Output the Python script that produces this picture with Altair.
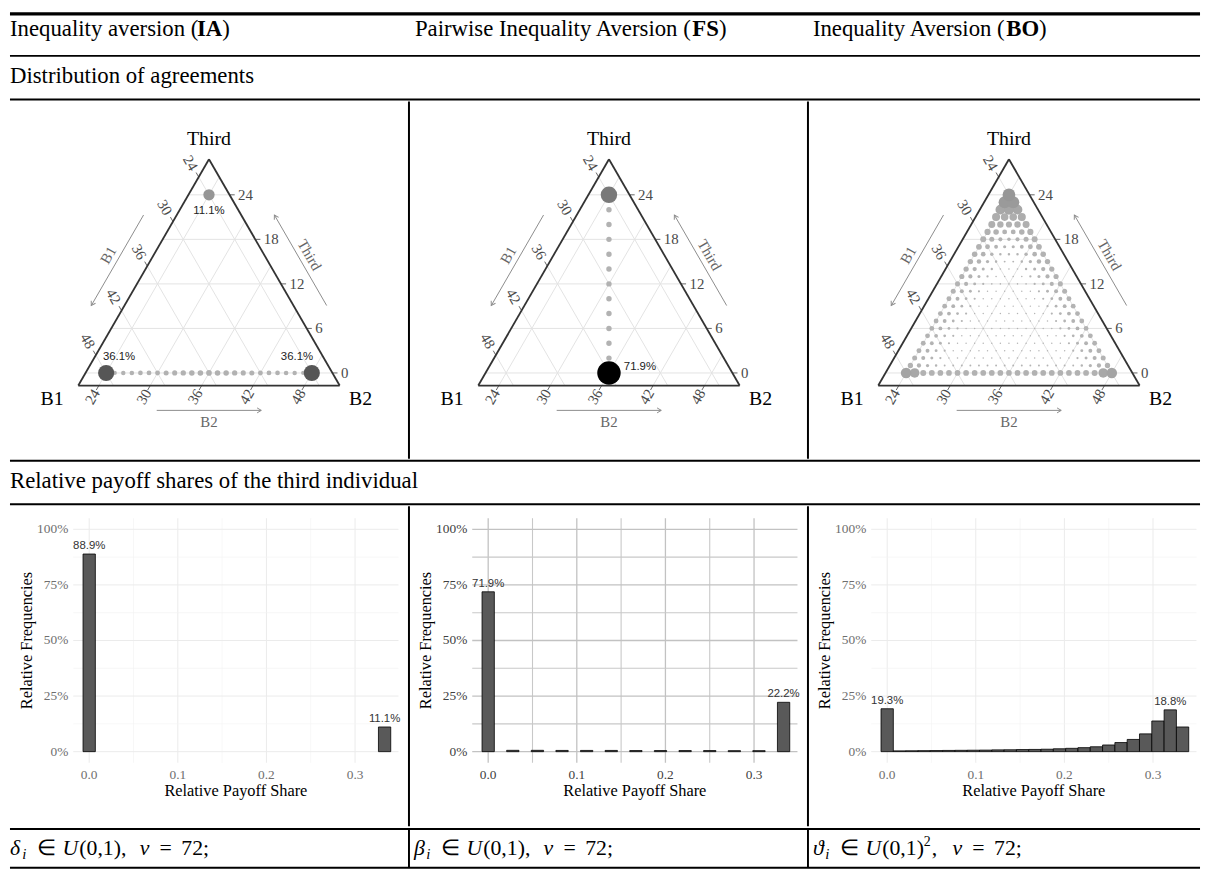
import math
import altair as alt
import pandas as pd

SERIF = "Liberation Serif"
SANS = "Liberation Sans"

# ============================ DATA ============================
header_plain = ["Inequality aversion (", "Pairwise Inequality Aversion (", "Inequality Aversion ("]
header_bold = ["IA", "FS", "BO"]
section_1 = "Distribution of agreements"
section_2 = "Relative payoff shares of the third individual"
formula_symbols = ["δ", "β", "ϑ"]
formula_squared = [False, False, True]

payoff_total = 72
b_tick_values = [24, 30, 36, 42, 48]
third_tick_values = [0, 6, 12, 18, 24]

# --- IA ternary: agreements (B2, Third), relative frequency in %
ia_b2 = [24, 25, 26, 27, 28, 29, 30, 31, 32, 33, 34, 35, 36, 37, 38, 39, 40, 41, 42, 43, 44, 45, 46, 47, 48, 24]
ia_third = [0, 0, 0, 0, 0, 0, 0, 0, 0, 0, 0, 0, 0, 0, 0, 0, 0, 0, 0, 0, 0, 0, 0, 0, 0, 24]
ia_pct = [36.1, 0.45, 0.5, 0.55, 0.6, 0.65, 0.7, 0.75, 0.8, 0.9, 1.0, 1.05, 1.1, 1.05, 1.0, 0.9, 0.8, 0.75,
          0.7, 0.65, 0.6, 0.55, 0.5, 0.45, 36.1, 11.1]

# --- FS ternary
fs_b2 = [36, 35, 34, 33, 32, 31, 30, 29, 28, 27, 26, 25, 24]
fs_third = [0, 2, 4, 6, 8, 10, 12, 14, 16, 18, 20, 22, 24]
fs_pct = [71.9, 0.55, 0.55, 0.55, 0.55, 0.55, 0.55, 0.55, 0.55, 0.55, 0.55, 0.55, 22.2]

# --- BO ternary: one entry per row of the lattice (Third value),
#     edge profile (from the outer dots inwards) and the value of the inner dots
bo_row_third = [24, 23, 22, 21, 20, 19, 18, 17, 16, 15, 14, 13, 12, 11, 10, 9, 8, 7, 6, 5, 4, 3, 2, 1, 0]
bo_row_edge = [
    [11.1], [9.4], [4.6], [2.4], [1.5, 1.1], [1.0, 0.7], [0.9, 0.5, 0.25], [0.8, 0.45, 0.2],
    [0.7, 0.4, 0.15], [0.65, 0.35, 0.12, 0.05], [0.6, 0.3, 0.1, 0.04], [0.55, 0.28, 0.09, 0.035],
    [0.5, 0.25, 0.08, 0.03], [0.5, 0.24, 0.08, 0.03], [0.48, 0.22, 0.07, 0.03], [0.46, 0.21, 0.07, 0.03],
    [0.45, 0.2, 0.07, 0.03], [0.45, 0.2, 0.07, 0.03], [0.45, 0.2, 0.07, 0.03], [0.45, 0.2, 0.07, 0.03],
    [0.46, 0.21, 0.08, 0.03], [0.48, 0.22, 0.08, 0.03], [0.5, 0.24, 0.09, 0.035], [0.6, 0.3, 0.12, 0.05],
    [6.0, 4.2, 0.9, 0.8],
]
bo_row_inner = [11.1, 9.4, 5.2, 2.0, 1.0, 0.45, 0.15, 0.1, 0.05, 0.02, 0.012, 0.01, 0.01, 0.008, 0.008,
                0.008, 0.008, 0.008, 0.008, 0.008, 0.008, 0.008, 0.01, 0.02, 0.75]

# --- histograms of the relative payoff share (Third / 72), relative frequency in %
ia_share_k = [0, 24]
ia_share_pct = [88.9, 11.1]
fs_share_k = [0, 2, 4, 6, 8, 10, 12, 14, 16, 18, 20, 22, 24]
fs_share_pct = [71.9, 0.6, 0.6, 0.55, 0.55, 0.55, 0.5, 0.5, 0.5, 0.5, 0.45, 0.45, 22.2]
bo_share_k = [0, 1, 2, 3, 4, 5, 6, 7, 8, 9, 10, 11, 12, 13, 14, 15, 16, 17, 18, 19, 20, 21, 22, 23, 24]
bo_share_pct = [19.3, 0.35, 0.4, 0.45, 0.5, 0.55, 0.6, 0.65, 0.7, 0.8, 0.85, 0.95, 1.0, 1.1, 1.3, 1.5, 1.8,
                2.2, 3.0, 4.1, 5.5, 8.0, 13.8, 18.8, 11.1]
ia_share_label_k = [0, 24]
fs_share_label_k = [0, 24]
bo_share_label_k = [0, 23]

x_major = [0.0, 0.1, 0.2, 0.3]
x_minor = [0.05, 0.15, 0.25]
y_major = [0.0, 0.25, 0.5, 0.75, 1.0]
y_minor = [0.125, 0.375, 0.625, 0.875]
x_axis_title = "Relative Payoff Share"
y_axis_title = "Relative Frequencies"

# ============================ LAYOUT ============================
FULL_W = 1202
COL_X = [0, 403, 806]
COL_W = [403, 403, 396]
ROW_A_H, ROW_B_H, ROW_C_H, ROW_D_H, ROW_E_H = 89, 361, 46, 323, 42
TABLE_FS = 23

TIMES_R = {' ': 250, '(': 333, ')': 333, 'A': 722, 'I': 333, 'P': 556, 'a': 444, 'e': 444, 'i': 278,
           'l': 278, 'n': 500, 'o': 500, 'q': 500, 'r': 333, 's': 389, 't': 278, 'u': 500, 'v': 500,
           'w': 722, 'y': 500}
TIMES_B = {'I': 389, 'A': 722, 'F': 611, 'S': 556, 'B': 667, 'O': 778}


def text_w(s, table, size):
    return sum(table.get(ch, 500) for ch in s) / 1000.0 * size


def const():
    return alt.Chart(pd.DataFrame({"d": [0]}))


def frame(w, h):
    # invisible rectangle that fixes the bounds of a cell to exactly w x h
    return const().mark_rect(fillOpacity=0, strokeOpacity=0, fill="white").encode(
        x=alt.value(0), x2=alt.value(w), y=alt.value(0), y2=alt.value(h))


def hline(y, w=2.0):
    return const().mark_rule(color="black", strokeWidth=w).encode(
        x=alt.value(0), x2=alt.value(FULL_W), y=alt.value(y))


def vline(x, y1, y2, w=2.0):
    return const().mark_rule(color="black", strokeWidth=w).encode(
        x=alt.value(x), y=alt.value(y1), y2=alt.value(y2))


def label(x, y, s, size=TABLE_FS, weight="normal", style="normal", font=SERIF, dy=0):
    return const().mark_text(text=s, align="left", baseline="alphabetic", font=font, fontSize=size,
                             fontWeight=weight, fontStyle=style, color="black", dy=dy).encode(
        x=alt.value(x), y=alt.value(y))


# ---------------- Row A: header + first section title ----------------
row_a_layers = [frame(FULL_W, ROW_A_H), hline(1.6, 3.2), hline(44), hline(ROW_A_H - 1)]
HEAD_X = [0, 409, 811]
for i in range(3):
    x0 = HEAD_X[i]
    w1 = text_w(header_plain[i], TIMES_R, TABLE_FS) - 1.5
    w2 = text_w(header_bold[i], TIMES_B, TABLE_FS)
    row_a_layers.append(label(x0, 24, header_plain[i]))
    row_a_layers.append(label(x0 + w1, 24, header_bold[i], weight="bold"))
    row_a_layers.append(label(x0 + w1 + w2, 24, ")"))
row_a_layers.append(label(0, 71, section_1))
row_a = alt.layer(*row_a_layers).properties(width=FULL_W, height=ROW_A_H)

# ---------------- Row B: ternary plots ----------------
T_MIN, L_MIN, R_MIN, SPAN = -1.7, 21.6, 21.6, 30.5
H = math.sqrt(3) / 2
SIDE = 264.0
TERN_Y0 = 287
TERN_X0 = [69, 70, 71]
V = payoff_total


def to_xy(b1, b2, third):
    t = (third - T_MIN) / SPAN
    r = (b2 - R_MIN) / SPAN
    return r + t / 2.0, t * H


def seg_df(pairs):
    rows = []
    for p, q in pairs:
        x1, y1 = to_xy(*p)
        x2, y2 = to_xy(*q)
        rows.append({"x1": x1, "y1": y1, "x2": x2, "y2": y2})
    return pd.DataFrame(rows)


grid_pairs = []
for c in third_tick_values:
    grid_pairs.append(((V - c - R_MIN, R_MIN, c), (L_MIN, V - c - L_MIN, c)))
for c in b_tick_values:
    grid_pairs.append(((c, V - c - T_MIN, T_MIN), (c, R_MIN, V - c - R_MIN)))
    grid_pairs.append(((V - c - T_MIN, c, T_MIN), (L_MIN, c, V - c - L_MIN)))
grid_df = seg_df(grid_pairs)

TK = 0.6
tick_pairs = []
for c in third_tick_values:
    tick_pairs.append(((L_MIN, V - c - L_MIN, c), (L_MIN - TK, V - c - L_MIN + TK, c)))
for c in b_tick_values:
    tick_pairs.append(((c, R_MIN, V - c - R_MIN), (c, R_MIN - TK, V - c - R_MIN + TK)))
    tick_pairs.append(((V - c - T_MIN, c, T_MIN), (V - c - T_MIN + TK, c, T_MIN - TK)))
tick_df = seg_df(tick_pairs)


def pos_df(items):
    rows = []
    for (b1, b2, th), txt in items:
        x, y = to_xy(b1, b2, th)
        rows.append({"x": x, "y": y, "t": txt})
    return pd.DataFrame(rows)


third_lab_df = pos_df([((L_MIN - 1.0, V - c - L_MIN + 1.0, c), str(c)) for c in third_tick_values])
b1_lab_df = pos_df([((c, R_MIN - 1.9, V - c - R_MIN + 1.9), str(c)) for c in b_tick_values])
b2_lab_df = pos_df([((V - c - T_MIN + 1.5, c, T_MIN - 1.5), str(c)) for c in b_tick_values])

corner_bl = to_xy(V - R_MIN - T_MIN, R_MIN, T_MIN)
corner_br = to_xy(L_MIN, V - L_MIN - T_MIN, T_MIN)
corner_top = to_xy(L_MIN, R_MIN, V - L_MIN - R_MIN)
outline_df = pd.DataFrame([
    {"x1": corner_bl[0], "y1": corner_bl[1], "x2": corner_br[0], "y2": corner_br[1]},
    {"x1": corner_br[0], "y1": corner_br[1], "x2": corner_top[0], "y2": corner_top[1]},
    {"x1": corner_top[0], "y1": corner_top[1], "x2": corner_bl[0], "y2": corner_bl[1]},
])


def left_edge(f, n):
    return 0.5 * f - n * H, H * f + n * 0.5


def right_edge(f, n):
    return 1 - 0.5 * f + n * H, H * f + n * 0.5


a1s, a1e = left_edge(0.69, 0.11), left_edge(0.29, 0.11)
a2s, a2e = right_edge(0.29, 0.11), right_edge(0.69, 0.11)
a3s, a3e = (0.30, -0.095), (0.70, -0.095)
arrow_df = pd.DataFrame([
    {"x1": a1s[0], "y1": a1s[1], "x2": a1e[0], "y2": a1e[1], "ang": 120},
    {"x1": a2s[0], "y1": a2s[1], "x2": a2e[0], "y2": a2e[1], "ang": 240},
    {"x1": a3s[0], "y1": a3s[1], "x2": a3e[0], "y2": a3e[1], "ang": 0},
])
t1 = left_edge(0.49, 0.15)
t2 = right_edge(0.49, 0.15)
axis_title_items = [(t1, "B1", 300), (t2, "Third", 60), ((0.5, -0.14), "B2", 0)]
corner_items = [((corner_top[0], corner_top[1] + 0.076), "Third"), ((-0.10, -0.05), "B1"), ((1.08, -0.05), "B2")]


def ternary_cell(pts_df, size_max, area_max, labels, col):
    x0 = TERN_X0[col]
    xs = alt.Scale(domain=[0, 1], range=[x0, x0 + SIDE], nice=False, zero=False)
    ys = alt.Scale(domain=[0, 1], range=[TERN_Y0, TERN_Y0 - SIDE], nice=False, zero=False)

    def XY(xf, yf):
        return dict(x=alt.X(xf, type="quantitative", scale=xs, axis=None),
                    y=alt.Y(yf, type="quantitative", scale=ys, axis=None))

    layers = [frame(COL_W[col], ROW_B_H)]
    layers.append(alt.Chart(grid_df).mark_rule(color="#e3e3e3", strokeWidth=1).encode(
        **XY("x1", "y1"), x2="x2:Q", y2="y2:Q"))
    layers.append(alt.Chart(tick_df).mark_rule(color="#666666", strokeWidth=1).encode(
        **XY("x1", "y1"), x2="x2:Q", y2="y2:Q"))
    layers.append(alt.Chart(outline_df).mark_rule(color="#333333", strokeWidth=1.8).encode(
        **XY("x1", "y1"), x2="x2:Q", y2="y2:Q"))
    layers.append(alt.Chart(third_lab_df).mark_text(font=SERIF, fontSize=15, color="#4a4a4a",
                                                    align="left", baseline="middle").encode(
        **XY("x", "y"), text="t:N"))
    layers.append(alt.Chart(b1_lab_df).mark_text(font=SERIF, fontSize=15, color="#4a4a4a", angle=60,
                                                 align="center", baseline="middle").encode(
        **XY("x", "y"), text="t:N"))
    layers.append(alt.Chart(b2_lab_df).mark_text(font=SERIF, fontSize=15, color="#4a4a4a", angle=300,
                                                 align="center", baseline="middle").encode(
        **XY("x", "y"), text="t:N"))
    layers.append(alt.Chart(arrow_df).mark_rule(color="#8c8c8c", strokeWidth=1).encode(
        **XY("x1", "y1"), x2="x2:Q", y2="y2:Q"))
    layers.append(alt.Chart(arrow_df).mark_point(shape="M-1,-0.6L0,0L-1,0.6", filled=False,
                                                 color="#8c8c8c", strokeWidth=1, size=70, opacity=1).encode(
        **XY("x2", "y2"), angle=alt.Angle("ang:Q", scale=None)))
    for (px, py), txt, ang in axis_title_items:
        layers.append(alt.Chart(pd.DataFrame({"x": [px], "y": [py], "t": [txt]})).mark_text(
            font=SERIF, fontSize=15, color="#666666", angle=ang, align="center", baseline="middle").encode(
            **XY("x", "y"), text="t:N"))
    for (px, py), txt in corner_items:
        layers.append(alt.Chart(pd.DataFrame({"x": [px], "y": [py], "t": [txt]})).mark_text(
            font=SERIF, fontSize=20, color="black", align="center", baseline="middle").encode(
            **XY("x", "y"), text="t:N"))
    calc = dict(
        px=f"(datum.B2 - {R_MIN}) / {SPAN} + (datum.Third - ({T_MIN})) / {SPAN} / 2",
        py=f"(datum.Third - ({T_MIN})) / {SPAN} * {H}",
    )
    layers.append(alt.Chart(pts_df).transform_calculate(**calc).mark_circle(opacity=1).encode(
        **XY("px", "py"),
        size=alt.Size("pct:Q", scale=alt.Scale(type="pow", exponent=0.6, domain=[0, size_max],
                                               range=[0, area_max]), legend=None),
        color=alt.Color("pct:Q", scale=alt.Scale(domain=[0, 72], range=["#b4b4b4", "#000000"]), legend=None),
        order=alt.Order("pct:Q", sort="ascending")))
    for b2v, thv, txt, dx, dy, align in labels:
        layers.append(alt.Chart(pd.DataFrame({"B2": [b2v], "Third": [thv], "t": [txt]})).transform_calculate(
            **calc).mark_text(font=SANS, fontSize=11.5, color="#222222", dx=dx, dy=dy, align=align,
                              baseline="middle").encode(**XY("px", "py"), text="t:N"))
    if col > 0:
        layers.append(const().mark_rule(color="black", strokeWidth=2).encode(
            x=alt.value(0), y=alt.value(0), y2=alt.value(ROW_B_H)))
    return alt.layer(*layers).properties(width=COL_W[col], height=ROW_B_H)


ia_df = pd.DataFrame({"B2": ia_b2, "Third": ia_third, "pct": ia_pct})
fs_df = pd.DataFrame({"B2": fs_b2, "Third": fs_third, "pct": fs_pct})
bo_rows = []
for th, edge, inner in zip(bo_row_third, bo_row_edge, bo_row_inner):
    n = 25 - th
    for j in range(n):
        d = min(j, n - 1 - j)
        bo_rows.append({"B2": 24 + j, "Third": th, "pct": edge[d] if d < len(edge) else inner})
bo_df = pd.DataFrame(bo_rows)

tern_ia = ternary_cell(ia_df, 36.1, 265, [(24, 0, "36.1%", 13, -16, "center"), (48, 0, "36.1%", -15, -16, "center"),
                                          (24, 24, "11.1%", 0, 16, "center")], 0)
tern_fs = ternary_cell(fs_df, 71.9, 560, [(36, 0, "71.9%", 15, -6, "left")], 1)
tern_bo = ternary_cell(bo_df, 11.1, 165, [], 2)
row_b = alt.hconcat(tern_ia, tern_fs, tern_bo, spacing=0, bounds="flush").resolve_scale(
    x="independent", y="independent", size="independent", color="independent")

# ---------------- Row C: second section title ----------------
row_c = alt.layer(frame(FULL_W, ROW_C_H), hline(1), hline(ROW_C_H - 1),
                  label(0, 28, section_2)).properties(width=FULL_W, height=ROW_C_H)

# ---------------- Row D: histograms ----------------
XD, XR = [-0.018, 0.349], [63.9, 392.4]
YD, YR = [-0.05, 1.05], [259, 12]
PX_PER_X = (XR[1] - XR[0]) / (XD[1] - XD[0])


def hist_cell(k_list, pct_list, lab_k, col, dark):
    xs = alt.Scale(domain=XD, range=XR, nice=False, zero=False)
    ys = alt.Scale(domain=YD, range=YR, nice=False, zero=False)

    def X(f):
        return alt.X(f, type="quantitative", scale=xs, axis=None)

    def Y(f):
        return alt.Y(f, type="quantitative", scale=ys, axis=None)

    if dark:
        maj_c, maj_w, min_c, min_w, lab_c = "#c2c2c2", 1.3, "#c8c8c8", 1.1, "#404040"
    else:
        maj_c, maj_w, min_c, min_w, lab_c = "#ebebeb", 1.0, "#f3f3f3", 0.7, "#6e6e6e"
    layers = [frame(COL_W[col], ROW_D_H)]
    for vals, color, width in ((x_minor, min_c, min_w), (x_major, maj_c, maj_w)):
        layers.append(alt.Chart(pd.DataFrame({"v": vals})).transform_calculate(
            lo=str(YD[0]), hi=str(YD[1])).mark_rule(color=color, strokeWidth=width).encode(
            x=X("v"), y=Y("lo"), y2="hi:Q"))
    for vals, color, width in ((y_minor, min_c, min_w), (y_major, maj_c, maj_w)):
        layers.append(alt.Chart(pd.DataFrame({"v": vals})).transform_calculate(
            lo=str(XD[0]), hi=str(XD[1])).mark_rule(color=color, strokeWidth=width).encode(
            y=Y("v"), x=X("lo"), x2="hi:Q"))
    # axis labels (tick values placed through the scales)
    layers.append(alt.Chart(pd.DataFrame({"v": x_major})).transform_calculate(
        lo=str(YD[0]), t="format(datum.v, '.1f')").mark_text(
        font=SERIF, fontSize=13.5, color=lab_c, baseline="top", align="center", dy=5).encode(
        x=X("v"), y=Y("lo"), text="t:N"))
    layers.append(alt.Chart(pd.DataFrame({"v": y_major})).transform_calculate(
        lo=str(XD[0]), t="format(datum.v, '.0%')").mark_text(
        font=SERIF, fontSize=13.5, color=lab_c, baseline="middle", align="right", dx=-5).encode(
        x=X("lo"), y=Y("v"), text="t:N"))
    # axis titles
    layers.append(alt.Chart(pd.DataFrame({"t": [x_axis_title]})).transform_calculate(
        xm=str((XD[0] + XD[1]) / 2), lo=str(YD[0])).mark_text(
        font=SERIF, fontSize=16.5, color="black", baseline="middle", align="center", dy=29).encode(
        x=X("xm"), y=Y("lo"), text="t:N"))
    layers.append(alt.Chart(pd.DataFrame({"t": [y_axis_title]})).transform_calculate(
        xl=str(XD[0] - 47 / PX_PER_X), ym=str((YD[0] + YD[1]) / 2)).mark_text(
        font=SERIF, fontSize=16.5, color="black", baseline="middle", align="center", angle=270).encode(
        x=X("xl"), y=Y("ym"), text="t:N"))
    df = pd.DataFrame({"k": k_list, "pct": pct_list})
    layers.append(alt.Chart(df).transform_calculate(
        lo=f"(datum.k - 0.5) / {payoff_total}", hi=f"(datum.k + 0.5) / {payoff_total}",
        frac="datum.pct / 100", zero="0").mark_bar(color="#595959", stroke="black", strokeWidth=0.8).encode(
        x=X("lo"), x2="hi:Q", y=Y("frac"), y2="zero:Q"))
    pct_of = dict(zip(k_list, pct_list))
    lab_df = pd.DataFrame({"k": lab_k, "pct": [pct_of[k] for k in lab_k],
                           "t": [f"{pct_of[k]:.1f}%" for k in lab_k]})
    layers.append(alt.Chart(lab_df).transform_calculate(
        c=f"datum.k / {payoff_total}", frac="datum.pct / 100").mark_text(
        font=SANS, fontSize=11.5, color="#333333", dy=-8, baseline="middle").encode(
        x=X("c"), y=Y("frac"), text="t:N"))
    if col > 0:
        layers.append(const().mark_rule(color="black", strokeWidth=2).encode(
            x=alt.value(0), y=alt.value(0), y2=alt.value(ROW_D_H)))
    return alt.layer(*layers).properties(width=COL_W[col], height=ROW_D_H)


hist_ia = hist_cell(ia_share_k, ia_share_pct, ia_share_label_k, 0, False)
hist_fs = hist_cell(fs_share_k, fs_share_pct, fs_share_label_k, 1, True)
hist_bo = hist_cell(bo_share_k, bo_share_pct, bo_share_label_k, 2, False)
row_d = alt.hconcat(hist_ia, hist_fs, hist_bo, spacing=0, bounds="flush").resolve_scale(
    x="independent", y="independent")

# ---------------- Row E: parameter formulas ----------------
FORM_FS = 22
row_e_layers = [frame(FULL_W, ROW_E_H), hline(1), hline(40), vline(COL_X[1], 0, 40), vline(COL_X[2], 0, 40)]
FORM_X = [0, 408, 811]
for i in range(3):
    x0 = FORM_X[i]
    row_e_layers.append(label(x0, 27, formula_symbols[i], size=FORM_FS, style="italic"))
    row_e_layers.append(label(x0 + 12.5, 27, "i", size=15, style="italic", dy=4))
    row_e_layers.append(label(x0 + 27, 27, "∈", size=FORM_FS))
    row_e_layers.append(label(x0 + 53, 27, "U", size=FORM_FS, style="italic"))
    shift = 0
    if formula_squared[i]:
        row_e_layers.append(label(x0 + 70, 27, "(0,1)", size=FORM_FS))
        row_e_layers.append(label(x0 + 112, 27, "2", size=14, dy=-9))
        row_e_layers.append(label(x0 + 120, 27, ",", size=FORM_FS))
        shift = 10
    else:
        row_e_layers.append(label(x0 + 70, 27, "(0,1),", size=FORM_FS))
    row_e_layers.append(label(x0 + 131 + shift, 27, "v", size=FORM_FS, style="italic"))
    row_e_layers.append(label(x0 + 151 + shift, 27, "=", size=FORM_FS))
    row_e_layers.append(label(x0 + 173 + shift, 27, "72;", size=FORM_FS))
row_e = alt.layer(*row_e_layers).properties(width=FULL_W, height=ROW_E_H)

chart = alt.vconcat(row_a, row_b, row_c, row_d, row_e, spacing=0).resolve_scale(
    x="independent", y="independent", size="independent", color="independent").properties(
    padding=0, background="white").configure_view(stroke=None)

chart.save("out.html", embed_options={"renderer": "svg", "actions": False})
